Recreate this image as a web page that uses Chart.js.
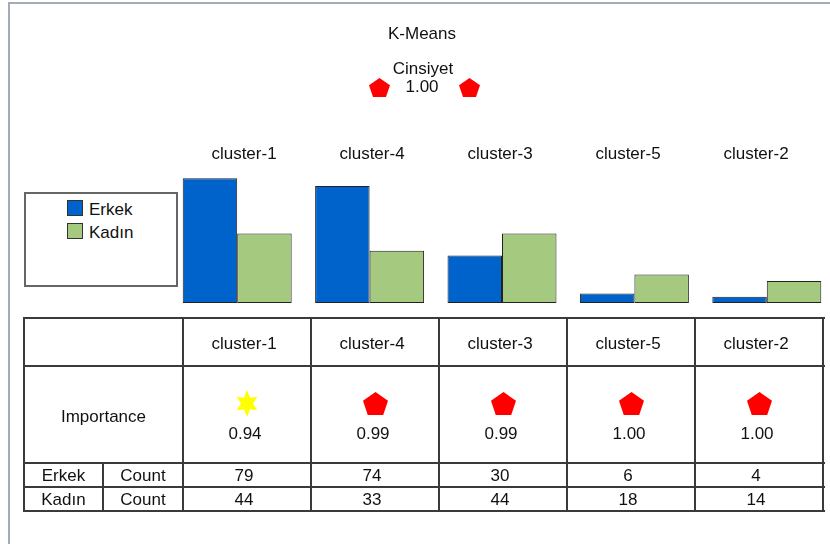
<!DOCTYPE html>
<html>
<head>
<meta charset="utf-8">
<script src="https://cdn.jsdelivr.net/npm/chart.js@4/dist/chart.umd.min.js"></script>
<style>
  html, body { margin: 0; padding: 0; background: #fff; overflow: hidden; }
  body { width: 830px; height: 544px; position: relative; font-family: "Liberation Sans", Arial, sans-serif; color: #111; }
  .abs { position: absolute; }
  .txt { position: absolute; font-size: 17px; white-space: nowrap; line-height: 20px; height: 20px; text-align: center; }
  .hline { position: absolute; height: 2px; background: #3a3a3a; }
  .vline { position: absolute; width: 2px; background: #3a3a3a; }
  #frame { position: absolute; left: 8px; top: 2px; width: 830px; height: 540px; border-left: 2px solid #a3abba; border-top: 2px solid #a3abba; border-bottom: 1px solid #dcdcdc; }
  #chartWrap { position: absolute; left: 0; top: 0; width: 850px; height: 544px; }
  #legendBox { position: absolute; left: 24px; top: 192px; width: 150px; height: 91px; border: 2px solid #666; background: #fff; }
  .swatch { position: absolute; width: 14px; height: 14px; border: 1px solid #333; }
</style>
</head>
<body>
<div id="frame"></div>
<div id="chartWrap"><canvas id="bars" width="850" height="544"></canvas></div>
<div id="legendBox"></div>
<div id="overlay" class="abs" style="left:0;top:0;width:830px;height:544px;"></div>
<script>
// Cluster order as shown, counts per gender, and importance per cluster
const clusters = ['cluster-1', 'cluster-4', 'cluster-3', 'cluster-5', 'cluster-2'];
const erkekCounts = [79, 74, 30, 6, 4];
const kadinCounts = [44, 33, 44, 18, 14];
const importance = [0.94, 0.99, 0.99, 1.00, 1.00];
const importanceMarker = ['star', 'pentagon', 'pentagon', 'pentagon', 'pentagon'];
const seriesNames = ['Erkek', 'Kadın'];
const rowMeasure = 'Count';
const chartTitle = 'K-Means';
const predictorName = 'Cinsiyet';
const predictorImportance = 1.00;

const seriesColors = ['#0063cc', '#a4c97f'];

// Bar chart of cluster composition
const chart = new Chart(document.getElementById('bars'), {
  type: 'bar',
  data: {
    labels: clusters,
    datasets: [
      { label: seriesNames[0], data: erkekCounts, backgroundColor: seriesColors[0], borderColor: '#222', borderWidth: 1, borderSkipped: false },
      { label: seriesNames[1], data: kadinCounts, backgroundColor: seriesColors[1], borderColor: '#222', borderWidth: 1, borderSkipped: false }
    ]
  },
  options: {
    responsive: false,
    animation: false,
    devicePixelRatio: 1,
    layout: { padding: { left: 171, right: 17, top: 145, bottom: 241 } },
    datasets: { bar: { categoryPercentage: 0.823, barPercentage: 1.0 } },
    scales: {
      x: { display: false },
      y: { display: false, min: 0, max: 100 }
    },
    plugins: { legend: { display: false }, tooltip: { enabled: false }, title: { display: false } }
  }
});

const overlay = document.getElementById('overlay');

function addText(str, cx, cy, extra) {
  const d = document.createElement('div');
  d.className = 'txt';
  d.textContent = str;
  d.style.left = (cx - 100) + 'px';
  d.style.width = '200px';
  d.style.top = (cy - 10) + 'px';
  if (extra) Object.assign(d.style, extra);
  overlay.appendChild(d);
  return d;
}

function svgShape(kind, cx, cy, w, h) {
  const ns = 'http://www.w3.org/2000/svg';
  const svg = document.createElementNS(ns, 'svg');
  svg.setAttribute('width', w);
  svg.setAttribute('height', h);
  svg.style.position = 'absolute';
  svg.style.left = (cx - w / 2) + 'px';
  svg.style.top = (cy - h / 2) + 'px';
  const poly = document.createElementNS(ns, 'polygon');
  const pts = [];
  if (kind === 'pentagon') {
    const r = w / 2 / Math.cos(Math.PI / 10);
    const yc = r;
    for (let i = 0; i < 5; i++) {
      const a = -Math.PI / 2 + i * 2 * Math.PI / 5;
      pts.push([w / 2 + r * Math.cos(a), yc + r * Math.sin(a)]);
    }
    const minY = Math.min(...pts.map(p => p[1]));
    const maxY = Math.max(...pts.map(p => p[1]));
    const sy = h / (maxY - minY);
    pts.forEach(p => { p[1] = (p[1] - minY) * sy; });
    poly.setAttribute('fill', '#ff0000');
  } else {
    // six-pointed star
    const R = h / 2, rIn = R * 0.5;
    for (let i = 0; i < 12; i++) {
      const a = -Math.PI / 2 + i * Math.PI / 6;
      const rr = i % 2 === 0 ? R : rIn;
      pts.push([w / 2 + rr * Math.cos(a) * (w / h), h / 2 + rr * Math.sin(a)]);
    }
    poly.setAttribute('fill', '#ffff00');
  }
  poly.setAttribute('points', pts.map(p => p[0].toFixed(2) + ',' + p[1].toFixed(2)).join(' '));
  svg.appendChild(poly);
  overlay.appendChild(svg);
}

// Title block with overall predictor importance
addText(chartTitle, 422, 34);
addText(predictorName, 423, 69);
addText(predictorImportance.toFixed(2), 422, 87);
svgShape('pentagon', 379, 87, 21, 19);
svgShape('pentagon', 469, 87, 21, 19);

// Legend built from the chart datasets
const legendBox = document.getElementById('legendBox');
chart.data.datasets.forEach((ds, i) => {
  const sw = document.createElement('div');
  sw.className = 'swatch';
  sw.style.left = '41px';
  sw.style.top = (6 + i * 23) + 'px';
  sw.style.background = ds.backgroundColor;
  legendBox.appendChild(sw);
  const t = document.createElement('div');
  t.className = 'txt';
  t.textContent = ds.label;
  t.style.left = '63px';
  t.style.top = (6 + i * 23) + 'px';
  t.style.textAlign = 'left';
  legendBox.appendChild(t);
});

// Table geometry
const colX = [24, 103, 183, 311, 439, 567, 695, 823];
const rowY = [318, 366, 463, 487, 511];
const labelShift = -3;

// Cluster labels above the bars and in the header row
clusters.forEach((c, i) => {
  const cx = (colX[i + 2] + colX[i + 3]) / 2 + labelShift;
  addText(c, cx, 154);
  addText(c, cx, (rowY[0] + rowY[1]) / 2 + 2);
  const isStar = importanceMarker[i] === 'star';
  svgShape(importanceMarker[i], cx + 3, 403, isStar ? 24 : 25, isStar ? 27 : 23);
  addText(importance[i].toFixed(2), cx + 1, 434);
  addText(String(erkekCounts[i]), cx, (rowY[2] + rowY[3]) / 2 + 1);
  addText(String(kadinCounts[i]), cx, (rowY[3] + rowY[4]) / 2 + 1);
});

// Row headings
addText('Importance', (colX[0] + colX[2]) / 2, 417);
seriesNames.forEach((n, i) => {
  addText(n, (colX[0] + colX[1]) / 2, (rowY[2 + i] + rowY[3 + i]) / 2 + 1);
  addText(rowMeasure, (colX[1] + colX[2]) / 2, (rowY[2 + i] + rowY[3 + i]) / 2 + 1);
});

// Grid lines of the table
function hline(x1, x2, y) {
  const d = document.createElement('div');
  d.className = 'hline';
  d.style.left = x1 + 'px'; d.style.width = (x2 - x1 + 2) + 'px'; d.style.top = (y - 1) + 'px';
  overlay.appendChild(d);
}
function vline(x, y1, y2) {
  const d = document.createElement('div');
  d.className = 'vline';
  d.style.left = (x - 1) + 'px'; d.style.top = (y1 - 1) + 'px'; d.style.height = (y2 - y1 + 2) + 'px';
  overlay.appendChild(d);
}
rowY.forEach(y => hline(colX[0], colX[colX.length - 1], y));
colX.forEach((x, i) => {
  if (i === 1) vline(x, rowY[2], rowY[4]);
  else vline(x, rowY[0], rowY[4]);
});
</script>
</body>
</html>
